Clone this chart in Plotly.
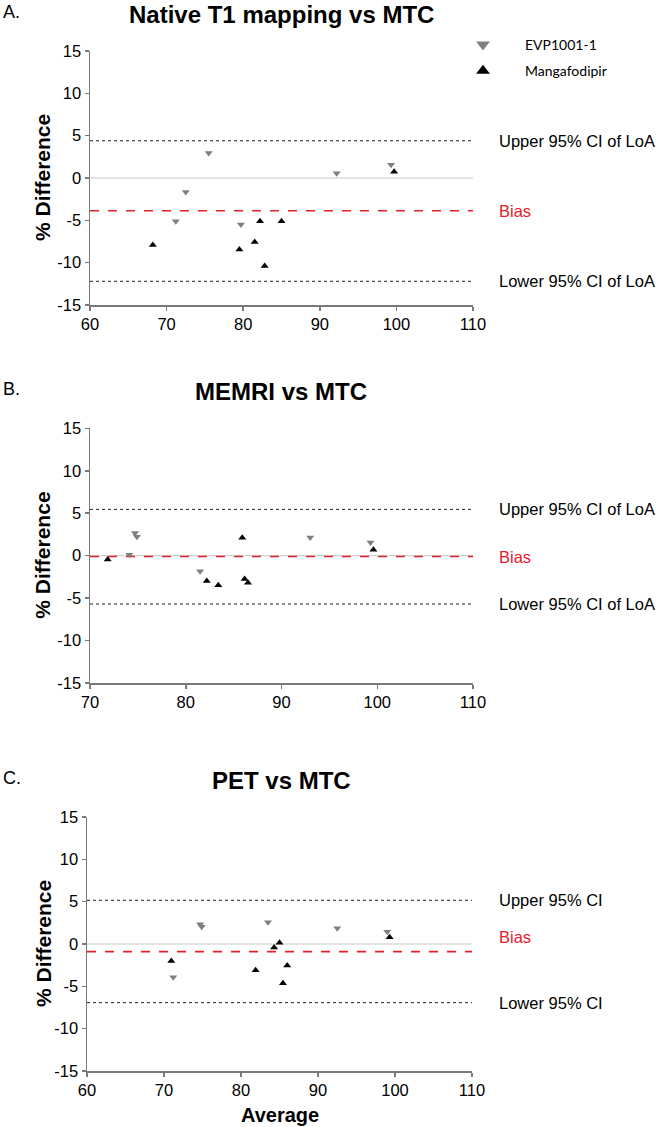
import plotly.graph_objects as go

# ---------------- data ----------------
panel_titles = ["Native T1 mapping vs MTC", "MEMRI vs MTC", "PET vs MTC"]
panel_letters = ["A.", "B.", "C."]
series_names = ["EVP1001-1", "Mangafodipir"]

a_evp_avg = [71.2, 72.5, 75.5, 79.7, 92.2, 99.3]
a_evp_diff = [-5.1, -1.65, 2.95, -5.5, 0.55, 1.57]
a_man_avg = [68.2, 79.5, 81.5, 82.2, 82.8, 85.0, 99.7]
a_man_diff = [-7.9, -8.45, -7.55, -5.1, -10.4, -5.1, 0.75]
a_upper, a_bias, a_lower = 4.4, -3.86, -12.2

b_evp_avg = [74.7, 74.9, 74.1, 81.5, 93.0, 99.3]
b_evp_diff = [2.66, 2.23, 0.1, -1.85, 2.15, 1.56]
b_man_avg = [71.85, 82.2, 83.4, 85.9, 86.15, 86.5, 99.6]
b_man_diff = [-0.44, -3.0, -3.5, 2.1, -2.75, -3.2, 0.7]
b_upper, b_bias, b_lower = 5.45, -0.1, -5.7

c_evp_avg = [74.7, 74.9, 71.2, 83.5, 92.5, 99.0]
c_evp_diff = [2.33, 2.05, -3.93, 2.56, 1.85, 1.46]
c_man_avg = [70.95, 81.9, 84.3, 85.0, 85.45, 86.0, 99.3]
c_man_diff = [-2.0, -3.1, -0.4, 0.15, -4.65, -2.55, 0.79]
c_upper, c_bias, c_lower = 5.16, -0.9, -6.93

x_ranges = [[60, 110], [70, 110], [60, 110]]
y_range = [-15, 15]
y_ticks = [-15, -10, -5, 0, 5, 10, 15]
y_ticktext = ["-15", "-10", "-5", "0", "5", "10", "15"]
x_ticks = [[60, 70, 80, 90, 100, 110], [70, 80, 90, 100, 110], [60, 70, 80, 90, 100, 110]]

label_sets = [
    ["Upper 95% CI of LoA", "Bias", "Lower 95% CI of LoA"],
    ["Upper 95% CI of LoA", "Bias", "Lower 95% CI of LoA"],
    ["Upper 95% CI", "Bias", "Lower 95% CI"],
]

panels = [
    (a_evp_avg, a_evp_diff, a_man_avg, a_man_diff, a_upper, a_bias, a_lower),
    (b_evp_avg, b_evp_diff, b_man_avg, b_man_diff, b_upper, b_bias, b_lower),
    (c_evp_avg, c_evp_diff, c_man_avg, c_man_diff, c_upper, c_bias, c_lower),
]

# ---------------- layout geometry (page pixels) ----------------
W, H = 660, 1127
x_px = [(90, 473), (90, 473), (87, 472)]
y_px = [(51, 305), (428.3, 683), (817, 1071)]
bias_label_offset = [0, 0, 1.75]


def px(v):
    return v / W


def py(v):
    return 1 - v / H


FONT = "Liberation Sans, Arial, sans-serif"
AXCOL = "#7a7a7a"

fig = go.Figure()
layout = dict(
    width=W, height=H,
    margin=dict(l=0, r=0, t=0, b=0, autoexpand=False),
    paper_bgcolor="white", plot_bgcolor="white",
    font=dict(family=FONT, color="black"),
    annotations=[],
)

for i, (ea, ed, ma, md, up, bi, lo) in enumerate(panels):
    n = "" if i == 0 else str(i + 1)
    xa, ya = "x" + n, "y" + n
    xr = x_ranges[i]
    fig.add_trace(go.Scatter(x=xr, y=[0, 0], xaxis=xa, yaxis=ya, mode="lines",
                             line=dict(color="#c8c8c8", width=1), showlegend=False, hoverinfo="skip"))
    for v in (up, lo):
        fig.add_trace(go.Scatter(x=xr, y=[v, v], xaxis=xa, yaxis=ya, mode="lines",
                                 line=dict(color="#222222", width=1, dash="dot"),
                                 showlegend=False, hoverinfo="skip"))
    fig.add_trace(go.Scatter(x=xr, y=[bi, bi], xaxis=xa, yaxis=ya, mode="lines",
                             line=dict(color="#e8202a", width=1.6, dash="dash"),
                             showlegend=False, hoverinfo="skip"))
    fig.add_trace(go.Scatter(x=ea, y=ed, xaxis=xa, yaxis=ya, mode="markers",
                             name=series_names[0], legendgroup="g1", showlegend=(i == 0),
                             marker=dict(symbol="triangle-down", size=7, color="#7f7f7f")))
    fig.add_trace(go.Scatter(x=ma, y=md, xaxis=xa, yaxis=ya, mode="markers",
                             name=series_names[1], legendgroup="g2", showlegend=(i == 0),
                             marker=dict(symbol="triangle-up", size=7, color="#000000")))

    x0, x1 = x_px[i]
    yt, yb = y_px[i]
    layout["xaxis" + n] = dict(
        domain=[px(x0), px(x1)], range=xr, anchor=ya, automargin=False,
        tickvals=x_ticks[i], ticks="outside", ticklen=4, tickwidth=1.5, tickcolor=AXCOL,
        showline=True, linecolor=AXCOL, linewidth=1.5, showgrid=False, zeroline=False,
        tickfont=dict(size=16.5, family=FONT), fixedrange=True,
    )
    layout["yaxis" + n] = dict(
        domain=[py(yb), py(yt)], range=y_range, anchor=xa, automargin=False,
        tickvals=y_ticks, ticktext=y_ticktext, ticks="outside", ticklen=4, tickwidth=1.5, tickcolor=AXCOL,
        showline=True, linecolor=AXCOL, linewidth=1.5, showgrid=False, zeroline=False,
        tickfont=dict(size=16.5, family=FONT), fixedrange=True,
    )
    layout["annotations"].append(dict(
        x=px(43), xref="paper", y=(py(yt) + py(yb)) / 2, yref="paper", text="<b>% Difference</b>",
        textangle=-90, showarrow=False, xanchor="center", yanchor="middle",
        font=dict(size=21, family=FONT)))

    labs = label_sets[i]
    for txt, v, col in ((labs[0], up, "black"), (labs[1], bi + bias_label_offset[i], "#e8202a"), (labs[2], lo, "black")):
        layout["annotations"].append(dict(
            x=px(497), xref="paper", y=v, yref=ya, text=txt, showarrow=False,
            xanchor="left", yanchor="middle", font=dict(size=16.5, color=col, family=FONT)))

    layout["annotations"].append(dict(
        x=px(281), xref="paper", y=py(yt - 37), yref="paper", text="<b>" + panel_titles[i] + "</b>",
        showarrow=False, xanchor="center", yanchor="middle", font=dict(size=24, family=FONT)))
    layout["annotations"].append(dict(
        x=px(1), xref="paper", y=py(yt - 39), yref="paper", text=panel_letters[i],
        showarrow=False, xanchor="left", yanchor="middle", font=dict(size=18, family=FONT)))

layout["annotations"].append(dict(
    x=px(280), xref="paper", y=py(1115), yref="paper", text="<b>Average</b>",
    showarrow=False, xanchor="center", yanchor="middle", font=dict(size=20, family=FONT)))

layout["legend"] = dict(
    x=px(441), y=py(29), xanchor="left", yanchor="top",
    font=dict(size=14, family="Lato, sans-serif"), itemsizing="constant",
    tracegroupgap=5, itemwidth=74, bgcolor="rgba(0,0,0,0)",
)
fig.update_layout(**layout)
fig.write_html("out.html", config={"displayModeBar": False, "staticPlot": True},
               post_script="document.body.style.margin='0';")
